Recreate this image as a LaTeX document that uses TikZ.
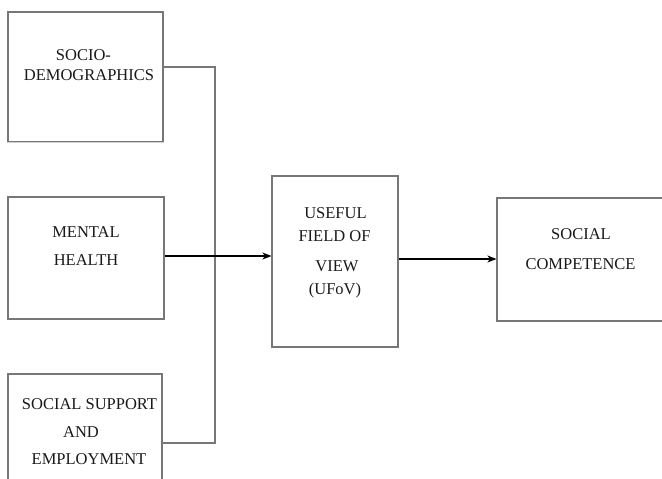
\documentclass[tikz,border=0pt]{standalone}
\usepackage{fontspec}
\setmainfont{Liberation Serif}
\usetikzlibrary{arrows.meta}
\definecolor{boxgray}{HTML}{777777}
\definecolor{edgelight}{HTML}{D0D0D0}
\begin{document}
\begin{tikzpicture}[x=1pt,y=-1pt,
  box/.style={draw=boxgray,line width=1.1pt,rectangle,inner sep=0pt},
  lbl/.style={anchor=base,inner sep=0pt,text=black!90,font=\fontsize{16.5}{18}\selectfont},
  conn/.style={draw=boxgray,line width=1.1pt},
  arr/.style={draw=black,line width=1.3pt,-{Stealth[length=9pt,width=7pt,inset=2.5pt]}}]
\useasboundingbox (0,0) rectangle (662,479);
\clip (0,0) rectangle (662,479);
% boxes
\node[box,minimum width=155pt,minimum height=130pt] (b1) at (85.5,77) {};
\node[box,minimum width=156pt,minimum height=122pt] (b2) at (86,258) {};
\node[box,minimum width=154pt,minimum height=126pt] (b3) at (85,437) {};
\node[box,minimum width=126pt,minimum height=171pt] (b4) at (335,261.5) {};
\node[box,minimum width=183pt,minimum height=123pt] (b5) at (588.5,259.5) {};
\draw[edgelight,line width=1.1pt] (b1.south west) -- (b1.south east);
% labels
\node[lbl] (t1a) at (83.5,60) {SOCIO-};
\node[lbl] (t1b) at (89,80) {DEMOGRAPHICS};
\node[lbl] (t2a) at (86,237) {MENTAL};
\node[lbl] (t2b) at (86,265) {HEALTH};
\node[lbl] (t3a) at (89.5,409) {SOCIAL SUPPORT};
\node[lbl] (t3b) at (81,437) {AND};
\node[lbl] (t3c) at (89,464) {EMPLOYMENT};
\node[lbl] (t4a) at (335.5,218) {USEFUL};
\node[lbl] (t4b) at (334.5,241) {FIELD OF};
\node[lbl] (t4c) at (337,271) {VIEW};
\node[lbl] (t4d) at (335,294) {(UFoV)};
\node[lbl] (t5a) at (581,239) {SOCIAL};
\node[lbl] (t5b) at (580.5,269) {COMPETENCE};
% connectors
\coordinate (jt) at (215,67);
\coordinate (jb) at (215,443);
\coordinate (ym) at (0,256);
\coordinate (yr) at (0,259);
\draw[conn] (b1.east |- jt) -- (jt) -- (jb) -- (b3.east |- jb);
\draw[arr,line width=2pt] (b2.east |- ym) -- (b4.west |- ym);
\draw[arr] (b4.east |- yr) -- (b5.west |- yr);
\end{tikzpicture}
\end{document}
